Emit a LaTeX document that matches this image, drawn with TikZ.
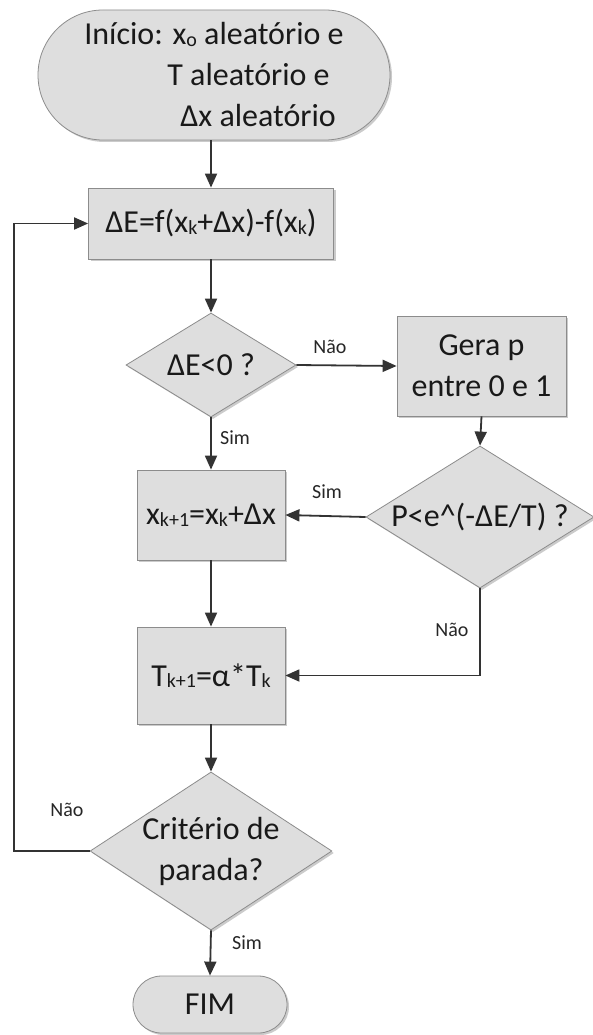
\documentclass[tikz,border=0pt]{standalone}
\usepackage{fontspec}
\setmainfont{Carlito}
\usetikzlibrary{shapes.geometric,shapes.misc,arrows.meta,shadows}
\newcommand{\sbs}[1]{\raisebox{-1.5pt}{\fontsize{20}{20}\selectfont #1}}
\tikzset{
  shp/.style={draw=black!45, line width=0.8pt, fill=black!13,
    font=\fontsize{32}{41}\selectfont, inner sep=0pt, text=black!90,
    drop shadow={shadow xshift=2pt,shadow yshift=-2pt,fill=black!45,opacity=0.45}},
  procbox/.style={shp, rectangle},
  termbox/.style={shp, rounded rectangle},
  decbox/.style={shp, diamond},
  conn/.style={draw=black!80, line width=1.8pt, -{Triangle[length=14pt,width=12pt]}},
  lbl/.style={font=\fontsize{20}{20}\selectfont, text=black!85, inner sep=0pt}
}
\begin{document}
\begin{tikzpicture}[x=1pt,y=-1pt]
\useasboundingbox[fill=white] (0,0) rectangle (593,1035);

\node[termbox, minimum width=352pt, minimum height=130pt, align=left] (start) at (214,75)
  {Início: x\sbs{o} aleatório e\\\hspace*{83pt}T aleatório e\\\hspace*{96pt}Δx aleatório};
\node[procbox, minimum width=245pt, minimum height=71pt] (de) at (211,223.5)
  {ΔE=f(x\sbs{k}+Δx)-f(x\sbs{k})};
\node[decbox, minimum width=170pt, minimum height=104pt, shape aspect=1.63] (t1) at (211,365)
  {ΔE<0 ?};
\node[procbox, minimum width=169pt, minimum height=100pt, align=center] (gera) at (481.5,366)
  {Gera p\\entre 0 e 1};
\node[decbox, minimum width=228pt, minimum height=142pt, shape aspect=1.6] (t2) at (480,517)
  {P<e\^{}(-ΔE/T) ?};
\node[procbox, minimum width=148pt, minimum height=90pt] (upd) at (211,515)
  {x\sbs{k+1}=x\sbs{k}+Δx};
\node[procbox, minimum width=148pt, minimum height=97pt] (temp) at (211,675.5)
  {T\sbs{k+1}=α*T\sbs{k}};
\node[decbox, minimum width=227pt, minimum height=148pt, shape aspect=1.53, align=center] (crit) at (211,851)
  {Critério de\\parada?};
\node[termbox, minimum width=154pt, minimum height=57pt] (fim) at (210,1004.5) {FIM};
\coordinate (loopc) at (14,851);

\draw[conn] (start.south -| de.north) -- (de.north);
\draw[conn] (de.south) -- (t1.north);
\draw[conn] (t1.east) -- (gera.west);
\draw[conn] (gera.south) -- (t2.north);
\draw[conn] (t1.south) -- (upd.north);
\draw[conn] (t2.west) -- (upd.east);
\draw[conn] (t2.south) |- (temp.east);
\draw[conn] (upd.south) -- (temp.north);
\draw[conn] (temp.south) -- (crit.north);
\draw[conn] (crit.south) -- (fim.north);
\draw[conn] (crit.west) -- (loopc) |- (de.west);

\node[lbl] (l1) at (330,347) {Não};
\node[lbl] (l2) at (235,438) {Sim};
\node[lbl] (l3) at (327,492) {Sim};
\node[lbl] (l4) at (452,630) {Não};
\node[lbl] (l5) at (67,810) {Não};
\node[lbl] (l6) at (247,943) {Sim};
\end{tikzpicture}
\end{document}
